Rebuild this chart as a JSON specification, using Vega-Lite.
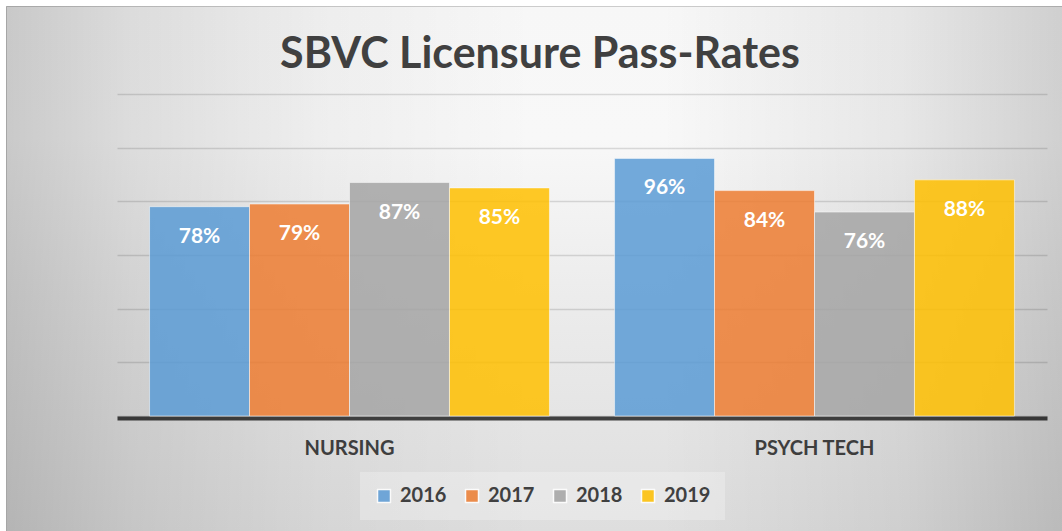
{
  "$schema": "https://vega.github.io/schema/vega-lite/v6.json",
  "width": 1062,
  "height": 531,
  "autosize": {"type": "fit", "contains": "padding"},
  "padding": {"left": 6, "top": 6, "right": 0, "bottom": 0},
  "background": "#ffffff",
  "config": {
    "font": "Lato",
    "view": {
      "stroke": "#cccccc",
      "strokeWidth": 1,
      "fill": {
        "gradient": "linear", "x1": 0, "y1": 0, "x2": 0, "y2": 1,
        "stops": [
          {"offset": 0, "color": "#f7f7f7"},
          {"offset": 0.25, "color": "#f8f8f8"},
          {"offset": 0.55, "color": "#ececec"},
          {"offset": 1, "color": "#dedede"}
        ]
      }
    },
    "axisX": {
      "orient": "bottom", "offset": -113, "domain": true, "domainColor": "#404040", "domainWidth": 4,
      "ticks": false, "grid": false, "labelFont": "Lato", "labelFontSize": 20, "labelFontWeight": "bold",
      "labelColor": "#404040", "labelPadding": 20, "labelAngle": 0
    },
    "axisY": {
      "grid": true, "labels": false, "ticks": false, "domain": false,
      "gridColor": "#000000", "gridOpacity": 0.13, "gridWidth": 1.5
    }
  },
  "data": {
    "values": [
      {"program": "NURSING", "year": "2016", "rate": 0.78},
      {"program": "NURSING", "year": "2017", "rate": 0.79},
      {"program": "NURSING", "year": "2018", "rate": 0.87},
      {"program": "NURSING", "year": "2019", "rate": 0.85},
      {"program": "PSYCH TECH", "year": "2016", "rate": 0.96},
      {"program": "PSYCH TECH", "year": "2017", "rate": 0.84},
      {"program": "PSYCH TECH", "year": "2018", "rate": 0.76},
      {"program": "PSYCH TECH", "year": "2019", "rate": 0.88}
    ]
  },
  "resolve": {"scale": {"x": "independent", "y": "independent"}},
  "layer": [
    {
      "data": {"values": [{"bg": 1}]},
      "mark": {
        "type": "rect",
        "fill": {
          "gradient": "linear", "x1": 0, "y1": 0, "x2": 1, "y2": 0,
          "stops": [
            {"offset": 0, "color": "rgba(0,0,0,0.19)"},
            {"offset": 0.12, "color": "rgba(0,0,0,0.11)"},
            {"offset": 0.3, "color": "rgba(0,0,0,0.04)"},
            {"offset": 0.5, "color": "rgba(0,0,0,0)"},
            {"offset": 0.62, "color": "rgba(0,0,0,0)"},
            {"offset": 0.85, "color": "rgba(0,0,0,0.07)"},
            {"offset": 1, "color": "rgba(0,0,0,0.16)"}
          ]
        }
      },
      "encoding": {}
    },
    {
      "layer": [
        {
          "mark": {"type": "bar", "fillOpacity": 0.85, "stroke": "#ffffff", "strokeWidth": 1, "strokeOpacity": 0.5},
          "encoding": {
            "x": {
              "field": "program", "type": "nominal", "sort": null, "title": null,
              "scale": {"range": [111, 1041], "paddingInner": 0.14, "paddingOuter": 0.07}
            },
            "xOffset": {"field": "year", "type": "nominal", "scale": {"paddingInner": 0, "paddingOuter": 0}},
            "y": {
              "field": "rate", "type": "quantitative", "title": null,
              "scale": {"domain": [0, 1.2], "range": [410, 88], "nice": false, "zero": true},
              "axis": {"values": [0, 0.2, 0.4, 0.6, 0.8, 1.0, 1.2]}
            },
            "color": {
              "field": "year", "type": "nominal",
              "scale": {"domain": ["2016", "2017", "2018", "2019"], "range": ["#5B9BD5", "#ED7D31", "#A5A5A5", "#FFC000"]},
              "legend": {
                "orient": "none", "legendX": 354, "legendY": 466, "direction": "horizontal", "columns": 4,
                "title": null, "symbolType": "square", "symbolSize": 169, "symbolOpacity": 0.85,
                "labelFont": "Lato", "labelFontSize": 20, "labelFontWeight": "bold", "labelColor": "#404040",
                "columnPadding": 15, "labelOffset": 6, "padding": 14,
                "fillColor": "rgba(255,255,255,0.25)"
              }
            }
          }
        },
        {
          "mark": {"type": "text", "dy": 30, "fontSize": 21, "fontWeight": "bold", "color": "#ffffff", "baseline": "middle", "font": "Lato"},
          "encoding": {
            "x": {"field": "program", "type": "nominal", "sort": null, "title": null},
            "xOffset": {"field": "year", "type": "nominal"},
            "y": {"field": "rate", "type": "quantitative", "title": null},
            "text": {"field": "rate", "type": "quantitative", "format": ".0%"}
          }
        },
        {
          "data": {"values": [{"title": "SBVC Licensure Pass-Rates"}]},
          "mark": {"type": "text", "fontSize": 43, "fontWeight": "bold", "color": "#404040", "baseline": "middle", "font": "Lato", "dx": 6},
          "encoding": {
            "y": {"datum": 1.345, "type": "quantitative", "title": null},
            "text": {"field": "title", "type": "nominal"}
          }
        }
      ]
    }
  ]
}
